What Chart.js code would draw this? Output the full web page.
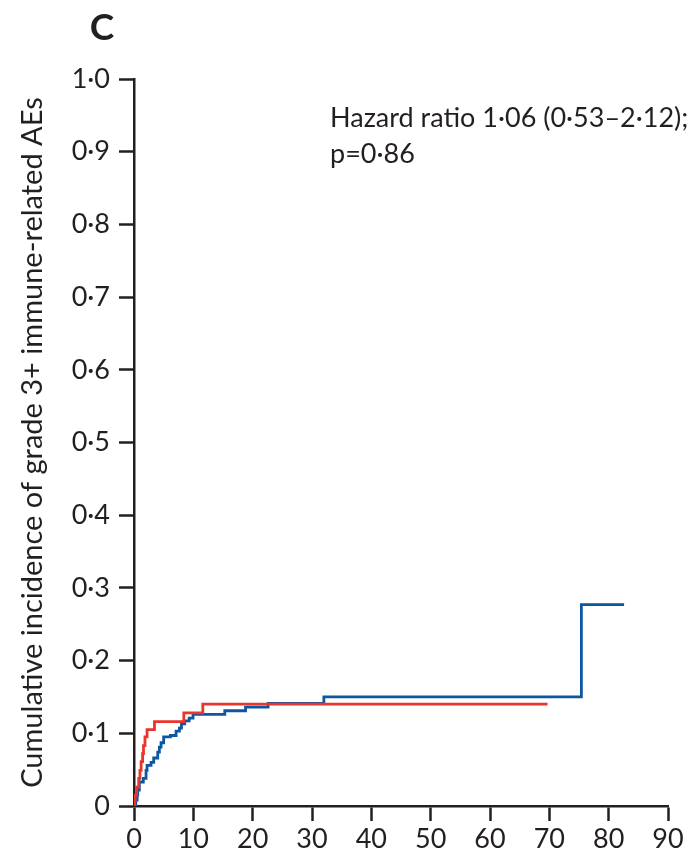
<!DOCTYPE html>
<html>
<head>
<meta charset="utf-8">
<script src="https://cdn.jsdelivr.net/npm/chart.js@4.4.1/dist/chart.umd.min.js"></script>
<style>
  body { margin: 0; background: #fff; }
  #wrap { width: 690px; height: 854px; }
</style>
</head>
<body>
<div id="wrap"><canvas id="incidenceChart" width="690" height="854"></canvas></div>
<script>
// red arm: event times (months) and cumulative incidence after each step
const redTimes  = [0, 0.1, 0.2, 0.45, 0.8, 1.0, 1.2, 1.45, 1.6, 1.85, 2.2, 3.45, 8.4, 11.6, 69.7];
const redValues = [0, 0.008, 0.015, 0.026, 0.038, 0.049, 0.061, 0.072, 0.083, 0.095, 0.105, 0.116, 0.128, 0.14, 0.14];

// blue arm
const blueTimes  = [0, 0.29, 0.53, 0.62, 0.9, 1.57, 2.03, 2.2, 2.87, 3.32, 4.0, 4.28, 4.56, 5.0, 6.13, 7.09, 7.65, 8.0, 8.55, 9.3, 9.95, 15.3, 18.8, 22.6, 32.0, 75.4, 82.6];
const blueValues = [0, 0.008, 0.015, 0.022, 0.033, 0.038, 0.049, 0.056, 0.06, 0.066, 0.074, 0.081, 0.087, 0.095, 0.097, 0.103, 0.107, 0.113, 0.117, 0.121, 0.126, 0.131, 0.136, 0.141, 0.15, 0.277, 0.277];

const xTicks = [0, 10, 20, 30, 40, 50, 60, 70, 80, 90];
const yTicks = [0, 0.1, 0.2, 0.3, 0.4, 0.5, 0.6, 0.7, 0.8, 0.9, 1.0];

const panelLabel = 'C';
const noteLines = ['Hazard ratio 1·06 (0·53–2·12);', 'p=0·86'];
const yTitle = 'Cumulative incidence of grade 3+ immune-related AEs';

const ink = '#231f20';
const fontFamily = 'Lato, "Open Sans", sans-serif';

function toPoints(xs, ys) {
  return xs.map((x, i) => ({ x: x, y: ys[i] }));
}

function dotDecimal(v) {
  if (Math.abs(v) < 1e-9) return '0';
  return v.toFixed(1).replace('.', '·');
}

const textPlugin = {
  id: 'panelText',
  afterDraw(chart) {
    const ctx = chart.ctx;
    ctx.save();
    ctx.fillStyle = ink;
    ctx.textBaseline = 'alphabetic';
    ctx.textAlign = 'center';
    ctx.font = 'bold 37px ' + fontFamily;
    ctx.fillText(panelLabel, 102, 40);
    ctx.textAlign = 'left';
    ctx.font = '27px ' + fontFamily;
    ctx.fillText(noteLines[0], 330, 127);
    ctx.fillText(noteLines[1], 330, 163);
    ctx.restore();
  }
};

const ctx = document.getElementById('incidenceChart').getContext('2d');
new Chart(ctx, {
  type: 'line',
  data: {
    datasets: [
      {
        label: 'Red arm',
        data: toPoints(redTimes, redValues),
        borderColor: '#e8362c',
        borderWidth: 2.8,
        stepped: 'before',
        pointRadius: 0,
        fill: false
      },
      {
        label: 'Blue arm',
        data: toPoints(blueTimes, blueValues),
        borderColor: '#0d56a1',
        borderWidth: 2.8,
        stepped: 'before',
        pointRadius: 0,
        fill: false
      }
    ]
  },
  options: {
    responsive: false,
    animation: false,
    layout: { padding: { top: 79, right: 22, left: 0, bottom: 0 } },
    plugins: {
      legend: { display: false },
      tooltip: { enabled: false }
    },
    scales: {
      x: {
        type: 'linear',
        min: 0,
        max: 90,
        afterBuildTicks: s => { s.ticks = xTicks.map(v => ({ value: v })); },
        afterFit: s => { s.height = 48; },
        border: { display: true, color: ink, width: 2.5 },
        grid: { drawOnChartArea: false, drawTicks: true, tickLength: 15, tickWidth: 2.5, tickColor: ink },
        ticks: { color: ink, padding: 2, maxRotation: 0, font: { family: fontFamily, size: 27 } }
      },
      y: {
        type: 'linear',
        min: 0,
        max: 1,
        afterBuildTicks: s => { s.ticks = yTicks.map(v => ({ value: v })); },
        afterFit: s => { s.width = 134; },
        border: { display: true, color: ink, width: 2.5 },
        grid: { drawOnChartArea: false, drawTicks: true, tickLength: 15, tickWidth: 2.5, tickColor: ink },
        ticks: { color: ink, padding: 9, callback: v => dotDecimal(v), font: { family: fontFamily, size: 27 } },
        title: {
          display: true,
          text: yTitle,
          color: ink,
          padding: { top: 15, bottom: 0 },
          font: { family: fontFamily, size: 29 }
        }
      }
    }
  },
  plugins: [textPlugin]
});
</script>
</body>
</html>
